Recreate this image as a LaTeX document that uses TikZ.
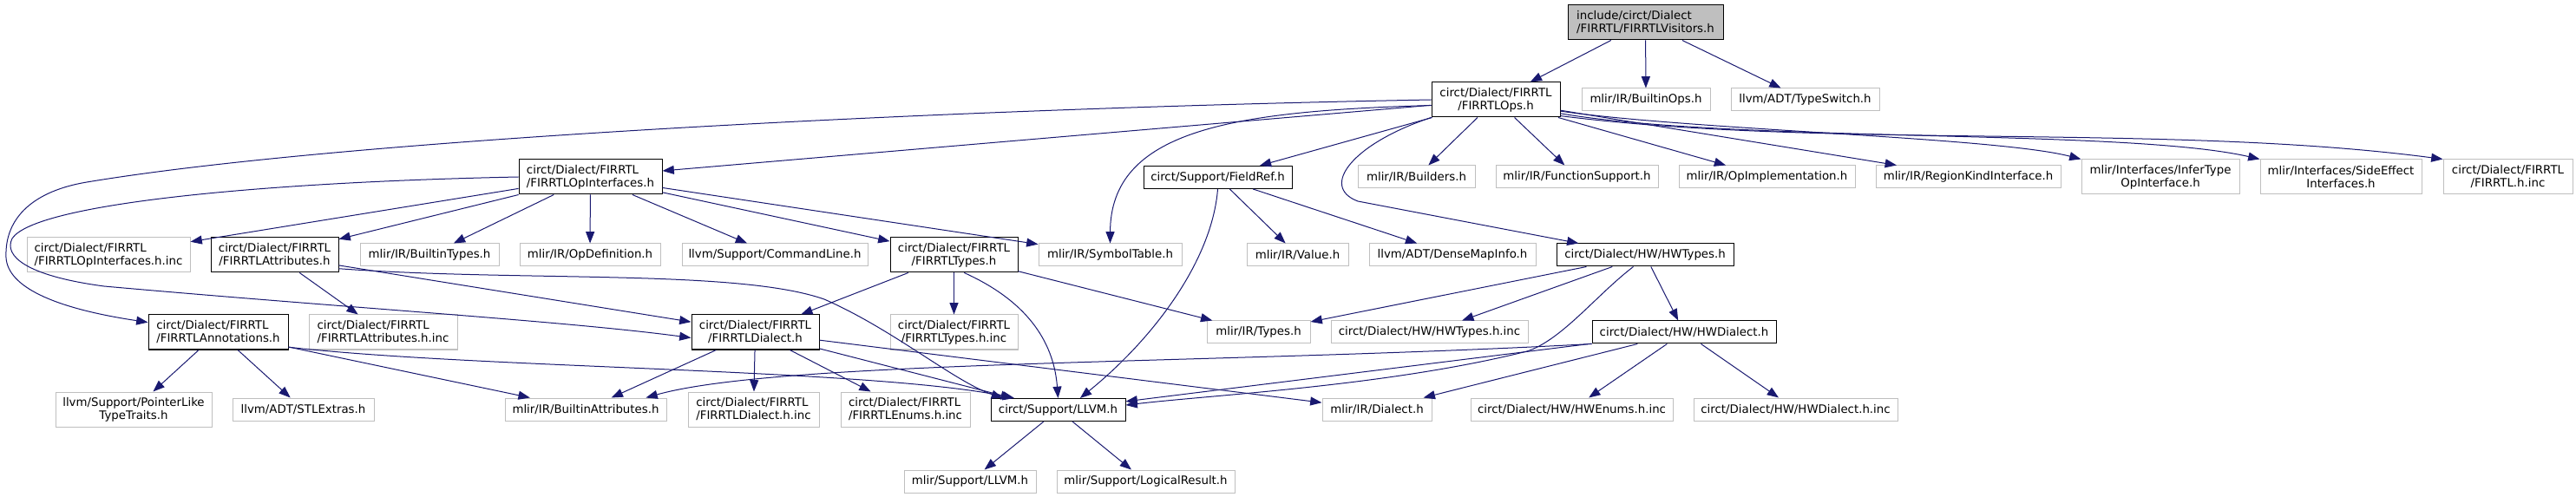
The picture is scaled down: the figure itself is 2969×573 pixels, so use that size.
\documentclass[tikz,border=0pt]{standalone}
\usepackage{fontspec}
\setmainfont{DejaVu Sans}
\usetikzlibrary{arrows.meta}
\definecolor{edgeblue}{HTML}{191970}
\definecolor{greyb}{HTML}{BFBFBF}
\tikzset{
  box/.style={draw, rectangle, inner sep=0pt, font=\fontsize{10}{11.25}\selectfont, line width=0.75pt},
  doc/.style={box, draw=black},
  ext/.style={box, draw=greyb},
  rootbox/.style={box, draw=black, fill=greyb},
  one/.style={minimum height=19.5pt},
  two/.style={minimum height=30pt},
  wd/.style={minimum width=#1*0.75pt},
  e/.style={draw=edgeblue, line width=0.75pt, -{Triangle[length=10pt,width=7.5pt]}},
}
\begin{document}
\begin{tikzpicture}[x=0.75pt,y=-0.75pt]
\useasboundingbox (0,0) rectangle (2969,573);
% row 1
\node[rootbox,two,wd=179,align=left] (root) at (1896.5,26) {include/circt/Dialect\\/FIRRTL/FIRRTLVisitors.h};
% row 2
\node[doc,two,wd=148,align=center] (ops) at (1724,115) {circt/Dialect/FIRRTL\\/FIRRTLOps.h};
\node[ext,one,wd=148] (builtinops) at (1897,115) {mlir/IR/BuiltinOps.h};
\node[ext,one,wd=171] (typeswitch) at (2080.5,115) {llvm/ADT/TypeSwitch.h};
% row 3
\node[doc,two,wd=165,align=left] (opif) at (680.5,204) {circt/Dialect/FIRRTL\\/FIRRTLOpInterfaces.h};
\node[doc,one,wd=171] (fieldref) at (1403.5,204.5) {circt/Support/FieldRef.h};
\node[ext,one,wd=135] (builders) at (1632.5,204) {mlir/IR/Builders.h};
\node[ext,one,wd=187] (funcsup) at (1817.5,204) {mlir/IR/FunctionSupport.h};
\node[ext,one,wd=203] (opimpl) at (2036.5,204) {mlir/IR/OpImplementation.h};
\node[ext,one,wd=213] (regionkind) at (2268.5,204) {mlir/IR/RegionKindInterface.h};
\node[ext,two,wd=182,align=center] (infertype) at (2490,204) {mlir/Interfaces/InferType\\OpInterface.h};
\node[ext,two,wd=186,align=center] (sideeffect) at (2698,204) {mlir/Interfaces/SideEffect\\Interfaces.h};
\node[ext,two,wd=149,align=center] (firrtlinc) at (2890.5,204) {circt/Dialect/FIRRTL\\/FIRRTL.h.inc};
% row 4
\node[ext,two,wd=188,align=left] (opifinc) at (125,294) {circt/Dialect/FIRRTL\\/FIRRTLOpInterfaces.h.inc};
\node[doc,two,wd=147,align=center] (attrs) at (316.5,294) {circt/Dialect/FIRRTL\\/FIRRTLAttributes.h};
\node[ext,one,wd=160] (builtintypes) at (495,294) {mlir/IR/BuiltinTypes.h};
\node[ext,one,wd=162] (opdef) at (680,294) {mlir/IR/OpDefinition.h};
\node[ext,one,wd=214] (cmdline) at (893,294) {llvm/Support/CommandLine.h};
\node[doc,two,wd=147,align=center] (types) at (1099.5,294) {circt/Dialect/FIRRTL\\/FIRRTLTypes.h};
\node[ext,one,wd=165] (symtab) at (1279.5,294) {mlir/IR/SymbolTable.h};
\node[ext,one,wd=117] (value) at (1495.5,294) {mlir/IR/Value.h};
\node[ext,one,wd=192] (densemap) at (1674,294) {llvm/ADT/DenseMapInfo.h};
\node[doc,one,wd=204] (hwtypes) at (1896,294) {circt/Dialect/HW/HWTypes.h};
% row 5
\node[doc,two,wd=161,align=left] (annot) at (251.5,383) {circt/Dialect/FIRRTL\\/FIRRTLAnnotations.h};
\node[ext,two,wd=171,align=left] (attrsinc) at (441.5,383) {circt/Dialect/FIRRTL\\/FIRRTLAttributes.h.inc};
\node[doc,two,wd=147,align=center] (dialect) at (870.5,383) {circt/Dialect/FIRRTL\\/FIRRTLDialect.h};
\node[ext,two,wd=147,align=center] (typesinc) at (1099.5,383) {circt/Dialect/FIRRTL\\/FIRRTLTypes.h.inc};
\node[ext,one,wd=119] (mlirtypes) at (1450.5,383) {mlir/IR/Types.h};
\node[ext,one,wd=227] (hwtypesinc) at (1647.5,383) {circt/Dialect/HW/HWTypes.h.inc};
\node[doc,one,wd=212] (hwdialect) at (1941,383) {circt/Dialect/HW/HWDialect.h};
% row 6
\node[ext,two,wd=180,align=center] (ptrlike) at (154,472) {llvm/Support/PointerLike\\TypeTraits.h};
\node[ext,one,wd=163] (stlextras) at (349.5,472) {llvm/ADT/STLExtras.h};
\node[ext,one,wd=186] (builtinattrs) at (675,472) {mlir/IR/BuiltinAttributes.h};
\node[ext,two,wd=151,align=left] (dialectinc) at (868.5,472) {circt/Dialect/FIRRTL\\/FIRRTLDialect.h.inc};
\node[ext,two,wd=149,align=left] (enumsinc) at (1043.5,472) {circt/Dialect/FIRRTL\\/FIRRTLEnums.h.inc};
\node[doc,one,wd=155] (llvm) at (1219.5,472.5) {circt/Support/LLVM.h};
\node[ext,one,wd=126] (mlirdialect) at (1587,472) {mlir/IR/Dialect.h};
\node[ext,one,wd=233] (hwenums) at (1811.5,472) {circt/Dialect/HW/HWEnums.h.inc};
\node[ext,one,wd=235] (hwdialectinc) at (2069.5,472) {circt/Dialect/HW/HWDialect.h.inc};
% row 7
\node[ext,one,wd=152] (mlirllvm) at (1118,555) {mlir/Support/LLVM.h};
\node[ext,one,wd=205] (logical) at (1320.5,555) {mlir/Support/LogicalResult.h};

% edges from root
\draw[e] (root) -- (ops);
\draw[e] (root) -- (builtinops);
\draw[e] (root) -- (typeswitch);
% edges from FIRRTLOps
\draw[e] (ops) -- (opif);
\draw[e] (ops.west) .. controls (1100,125) and (400,160) .. (100,210)
  .. controls (40,220) and (5,250) .. (7,297)
  .. controls (9,330) and (60,355) .. (annot.172);
\draw[e] (ops.185) .. controls (1420,128) and (1280,150) .. (symtab.north);
\draw[e] (ops) -- (fieldref);
\draw[e] (ops) -- (builders);
\draw[e] (ops) -- (funcsup);
\draw[e] (ops) -- (opimpl);
\draw[e] (ops) -- (regionkind);
\draw[e] (ops.350) .. controls (1950,150) and (2300,158) .. (infertype.north west);
\draw[e] (ops.348) .. controls (2000,165) and (2450,148) .. (sideeffect.north west);
\draw[e] (ops.346) .. controls (2100,172) and (2500,142) .. (firrtlinc.north west);
\draw[e] (ops.south west) .. controls (1560,165) and (1520,215) .. (1565,232) -- (hwtypes.170);
% edges from FIRRTLOpInterfaces
\draw[e] (opif.west) .. controls (300,210) and (40,235) .. (14,275)
  .. controls (4,295) and (30,318) .. (120,330)
  .. controls (400,355) and (650,370) .. (dialect.185);
\draw[e] (opif) -- (opifinc);
\draw[e] (opif) -- (attrs);
\draw[e] (opif) -- (builtintypes);
\draw[e] (opif) -- (opdef);
\draw[e] (opif) -- (cmdline);
\draw[e] (opif) -- (symtab);
\draw[e] (opif) -- (types);
% edges from FIRRTLAttributes
\draw[e] (attrs) -- (attrsinc);
\draw[e] (attrs) -- (dialect);
\draw[e] (attrs.-12) .. controls (600,325) and (850,310) .. (950,345)
  .. controls (1030,380) and (1100,440) .. (llvm.168);
% edges from FIRRTLAnnotations
\draw[e] (annot) -- (ptrlike);
\draw[e] (annot) -- (stlextras);
\draw[e] (annot) -- (builtinattrs);
\draw[e] (annot.-12) .. controls (550,425) and (1000,425) .. (llvm.165);
% edges from FIRRTLDialect
\draw[e] (dialect) -- (builtinattrs);
\draw[e] (dialect) -- (dialectinc);
\draw[e] (dialect) -- (enumsinc);
\draw[e] (dialect) -- (llvm);
\draw[e] (dialect) -- (mlirdialect);
% edges from FIRRTLTypes
\draw[e] (types) -- (dialect);
\draw[e] (types) -- (typesinc);
\draw[e] (types) -- (mlirtypes);
\draw[e] (types.-60) .. controls (1190,350) and (1215,400) .. (llvm.north);
% edges from FieldRef
\draw[e] (fieldref.south) .. controls (1397,300) and (1330,390) .. (llvm.28.5);
\draw[e] (fieldref) -- (value);
\draw[e] (fieldref) -- (densemap);
% edges from HWTypes
\draw[e] (hwtypes) -- (mlirtypes);
\draw[e] (hwtypes) -- (hwtypesinc);
\draw[e] (hwtypes) -- (hwdialect);
\draw[e] (hwtypes.-135) .. controls (1840,340) and (1800,392) .. (1760,405)
  .. controls (1600,445) and (1400,455) .. (llvm.4);
% edges from HWDialect
\draw[e] (hwdialect.south west) .. controls (1400,420) and (900,415) .. (builtinattrs.11);
\draw[e] (hwdialect) -- (llvm);
\draw[e] (hwdialect) -- (mlirdialect);
\draw[e] (hwdialect) -- (hwenums);
\draw[e] (hwdialect) -- (hwdialectinc);
% edges from LLVM.h
\draw[e] (llvm) -- (mlirllvm);
\draw[e] (llvm) -- (logical);
\end{tikzpicture}
\end{document}
